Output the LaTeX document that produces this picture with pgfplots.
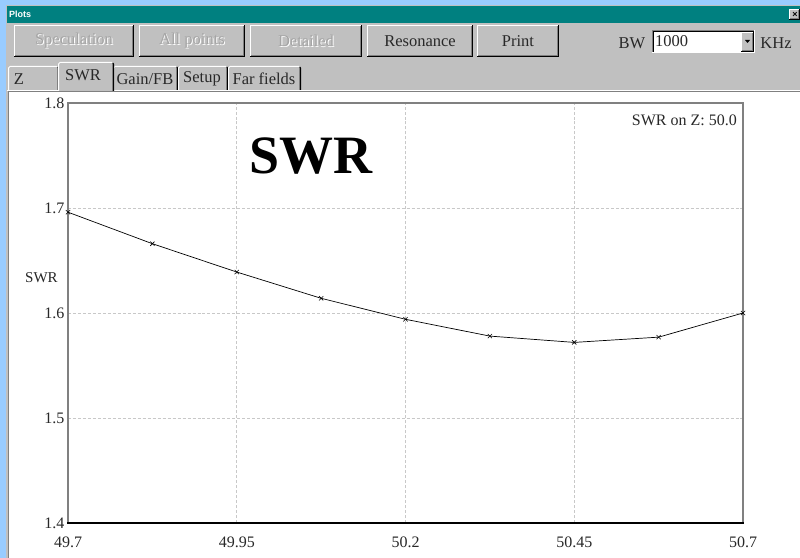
\documentclass[border=0pt]{standalone}
\usepackage{fontspec}
\setmainfont{Liberation Serif}
\newfontfamily\uisans{Liberation Sans}
\usepackage{pgfplots}
\pgfplotsset{compat=1.18}
\definecolor{bgblue}{RGB}{153,204,255}
\definecolor{titleteal}{RGB}{0,128,128}
\definecolor{wingray}{RGB}{192,192,192}
\definecolor{shadowgray}{RGB}{128,128,128}
\definecolor{gridgray}{RGB}{200,200,200}
\definecolor{disabledtxt}{RGB}{165,165,165}
\definecolor{txt}{RGB}{40,40,40}
\newcommand{\uif}{\rmfamily\fontsize{16.5bp}{19bp}\selectfont}
% raised 3D box (pixel coords, y downwards)
\newcommand{\raised}[4]{%
  \fill[wingray] (#1,#2) rectangle (#3,#4);
  \draw[white,line width=1bp] (#1+0.5,#4-1) -- (#1+0.5,#2+0.5) -- (#3-1,#2+0.5);
  \draw[shadowgray,line width=1bp] (#1+1,#4-1.5) -- (#3-1.5,#4-1.5) -- (#3-1.5,#2+1);
  \draw[black,line width=1bp] (#1,#4-0.5) -- (#3-0.5,#4-0.5) -- (#3-0.5,#2);
}
\newcommand{\tab}[4]{% x1 y1 x2 y2, no bottom
  \fill[wingray] (#1,#2) rectangle (#3,#4);
  \draw[white,line width=1bp] (#1+0.5,#4) -- (#1+0.5,#2+2) -- (#1+2,#2+0.5) -- (#3-2,#2+0.5);
  \draw[shadowgray,line width=1bp] (#3-1.5,#2+1.5) -- (#3-1.5,#4);
  \draw[black,line width=1bp] (#3-1,#2+1) -- (#3-0.5,#2+2) -- (#3-0.5,#4);
}
\newcommand{\distext}[3]{% x y text (disabled)
  \node[text=white,font=\uif,inner sep=0pt] at (#1+1,#2+1) {#3};
  \node[text=disabledtxt,font=\uif,inner sep=0pt] at (#1,#2) {#3};
}
\begin{document}
\begin{tikzpicture}
\begin{scope}[shift={(0bp,558bp)},x=1bp,y=-1bp]
  \path[use as bounding box] (0,0) rectangle (800,558);
  \fill[bgblue] (0,0) rectangle (800,558);
  % window
  \fill[wingray] (6,5) rectangle (800,558);
  \fill[titleteal] (7,6) rectangle (800,23);
  \node[anchor=west,text=white,font=\uisans\bfseries\fontsize{9bp}{10bp}\selectfont,inner sep=0pt] at (9,14.5) {Plots};
  % close box
  \raised{789}{9}{800}{20}
  \node[font=\uisans\bfseries\fontsize{9bp}{10bp}\selectfont,inner sep=0pt] at (795,14.5) {×};
  % buttons
  \raised{14}{25}{134}{57}
  \raised{139}{25}{245}{57}
  \raised{250}{25}{362}{57}
  \raised{367}{25}{473}{57}
  \raised{477}{25}{559}{57}
  \distext{74}{41}{Speculation}
  \distext{192}{41}{All points}
  \distext{306}{41}{Detailed}
  \node[font=\uif,text=txt,inner sep=0pt] at (420,41) {Resonance};
  \node[font=\uif,text=txt,inner sep=0pt] at (518,41) {Print};
  % BW combobox
  \node[font=\uif,text=txt,inner sep=0pt] at (632,43) {BW};
  \fill[white] (652,30) rectangle (755,53);
  \draw[shadowgray,line width=1bp] (652.5,53) -- (652.5,30.5) -- (755,30.5);
  \draw[black,line width=1bp] (653.5,52) -- (653.5,31.5) -- (754,31.5);
  \draw[white,line width=1bp] (652,52.5) -- (754.5,52.5) -- (754.5,30);
  \node[anchor=west,font=\uif,text=txt,inner sep=0pt] at (655,41) {1000};
  \raised{741}{32}{754}{52}
  \fill[black] (745,40) -- (750,40) -- (747.5,43) -- cycle;
  \node[font=\uif,text=txt,inner sep=0pt] at (776,43) {KHz};
  % tabs
  \tab{8}{66}{59}{91}
  \tab{113}{66}{178}{91}
  \tab{178}{66}{228}{91}
  \tab{228}{66}{301}{91}
  \draw[white,line width=1bp] (7,90.5) -- (800,90.5);
  \tab{58}{62}{114}{92}
  \node[font=\uif,text=txt,inner sep=0pt] at (19,79) {Z};
  \node[font=\uif,text=txt,inner sep=0pt] at (83,75) {SWR};
  \node[font=\uif,text=txt,inner sep=0pt] at (145,79) {Gain/FB};
  \node[font=\uif,text=txt,inner sep=0pt] at (202,79) {Setup};
  \node[font=\uif,text=txt,inner sep=0pt] at (264,79) {Far fields};
  % white plot panel
  \fill[white] (9,92) rectangle (800,558);
  \draw[shadowgray,line width=1bp] (8.5,558) -- (8.5,91.5) -- (800,91.5);
  % y label
  \node[font=\rmfamily\fontsize{15bp}{17bp}\selectfont,text=txt,inner sep=0pt] at (41.5,278) {SWR};
\end{scope}
\begin{axis}[
  at={(68bp,35bp)}, anchor=south west,
  scale only axis, width=675bp, height=420bp,
  xmin=49.7, xmax=50.7, ymin=1.4, ymax=1.8,
  xtick={49.7,49.95,50.2,50.45,50.7},
  xticklabels={49.7,49.95,50.2,50.45,50.7},
  ytick={1.4,1.5,1.6,1.7,1.8},
  yticklabels={1.4,1.5,1.6,1.7,1.8},
  grid=major,
  major grid style={densely dashed, gridgray, line width=0.8bp},
  axis line style={shadowgray, line width=1.5bp},
  tick style={draw=none},
  tick label style={font=\rmfamily\fontsize{16bp}{18bp}\selectfont, text=txt},
  xticklabel style={yshift=-10bp},
  yticklabel style={xshift=0bp},
  clip=false,
]
\addplot[black, line width=0.7bp, mark=x, mark size=3bp, mark options={line width=0.6bp}] coordinates {
  (49.7,1.696) (49.825,1.666) (49.95,1.639) (50.075,1.614) (50.2,1.594)
  (50.325,1.578) (50.45,1.572) (50.575,1.577) (50.7,1.600)
};
\end{axis}
\begin{scope}[shift={(0bp,558bp)},x=1bp,y=-1bp]
  \draw[black,line width=1.5bp] (67.25,523) -- (743.75,523);
  \node[fill=white,font=\rmfamily\bfseries\fontsize{54bp}{60bp}\selectfont,inner xsep=3bp,inner ysep=2bp] at (311,156) {SWR};
  \node[fill=white,anchor=east,font=\rmfamily\fontsize{16bp}{18bp}\selectfont,text=txt,inner sep=1bp] at (738,120) {SWR on Z: 50.0};
\end{scope}
\end{tikzpicture}
\end{document}
